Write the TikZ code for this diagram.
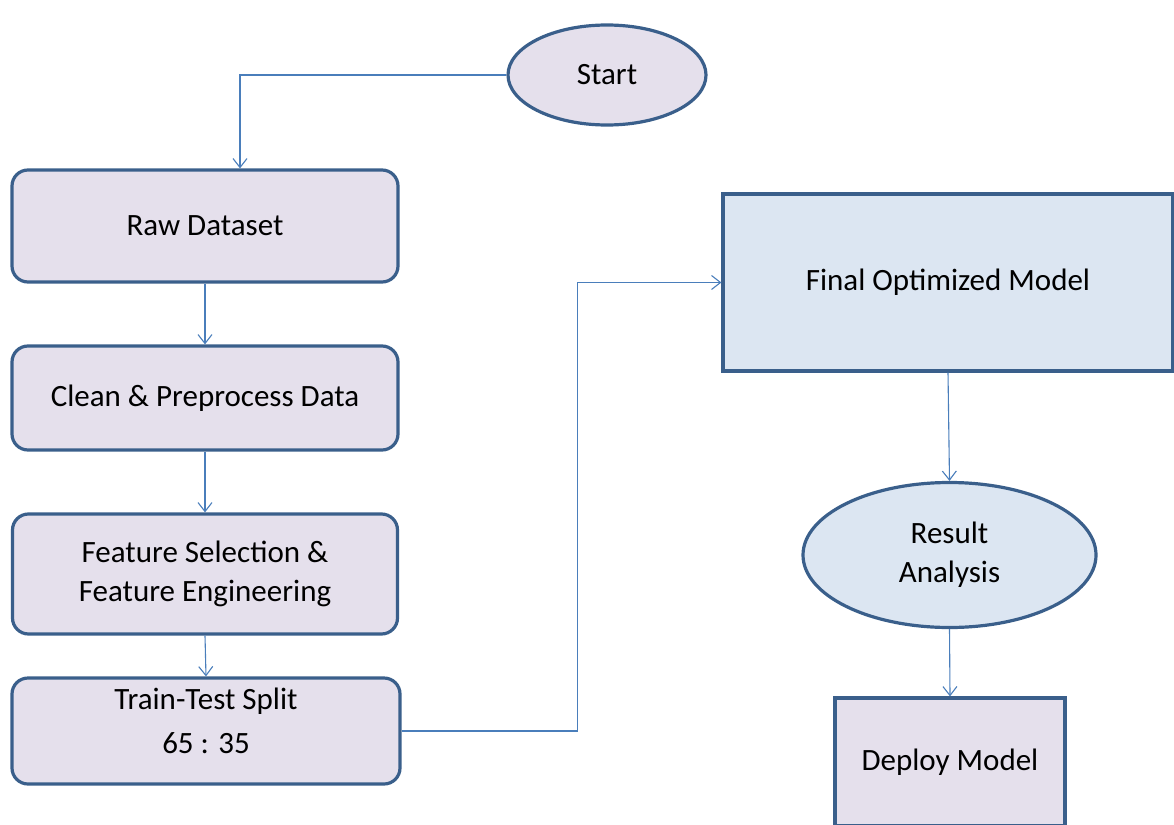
\documentclass[tikz,border=0pt]{standalone}
\usepackage{fontspec}
\setmainfont{Carlito}
\usetikzlibrary{arrows.meta,shapes.geometric,calc}
\definecolor{lav}{HTML}{E5E0EC}
\definecolor{lblue}{HTML}{DCE6F2}
\definecolor{bord}{HTML}{3A5F8B}
\definecolor{conncol}{HTML}{4A7EBB}
\begin{document}
\begin{tikzpicture}[x=1pt,y=-1pt,
  every node/.style={font=\fontsize{31}{39}\selectfont, text=black, align=center, inner sep=0pt},
  rbox/.style={rectangle, rounded corners=16pt, draw=bord, line width=3.2pt, fill=lav},
  sbox/.style={rectangle, draw=bord, line width=3.2pt},
  oval/.style={ellipse, draw=bord, line width=3.2pt},
  conn/.style={draw=conncol, line width=1.1pt, -{Straight Barb[length=9pt,width=14pt,line width=1.1pt]}}
]
\useasboundingbox (0,0) rectangle (1174,824);
\node[oval, fill=lav, minimum width=198pt, minimum height=100pt] (start) at (607,75) {Start};
\node[rbox, minimum width=386pt, minimum height=112pt] (raw) at (205,226) {Raw Dataset};
\node[rbox, minimum width=386pt, minimum height=104pt] (clean) at (205,398) {Clean \& Preprocess Data};
\node[rbox, minimum width=385pt, minimum height=120pt] (feat) at (205,574) {Feature Selection \&\\Feature Engineering};
\node[rbox, minimum width=388pt, minimum height=106pt] (train) at (206,731) {Train-Test Split\\[5pt]65 : 35\\[-18pt]\mbox{}};
\node[sbox, fill=lblue, minimum width=450pt, minimum height=177pt] (final) at (948,282.5) {Final Optimized Model};
\node[oval, fill=lblue, minimum width=293pt, minimum height=145pt] (result) at (949.5,555) {Result\\Analysis};
\node[sbox, fill=lav, minimum width=230pt, minimum height=128pt] (deploy) at (950,762) {Deploy Model};

\draw[conn] (start.west) -| ([xshift=35pt]raw.north);
\draw[conn] (raw.south) -- (clean.north);
\draw[conn] (clean.south) -- (feat.north);
\draw[conn] (feat.south) -- (train.north);
\draw[conn] (train.east) -- ++(176,0) |- (final.west);
\draw[conn] (final.south) -- (result.north);
\draw[conn] (result.south) -- (deploy.north);
\end{tikzpicture}
\end{document}
